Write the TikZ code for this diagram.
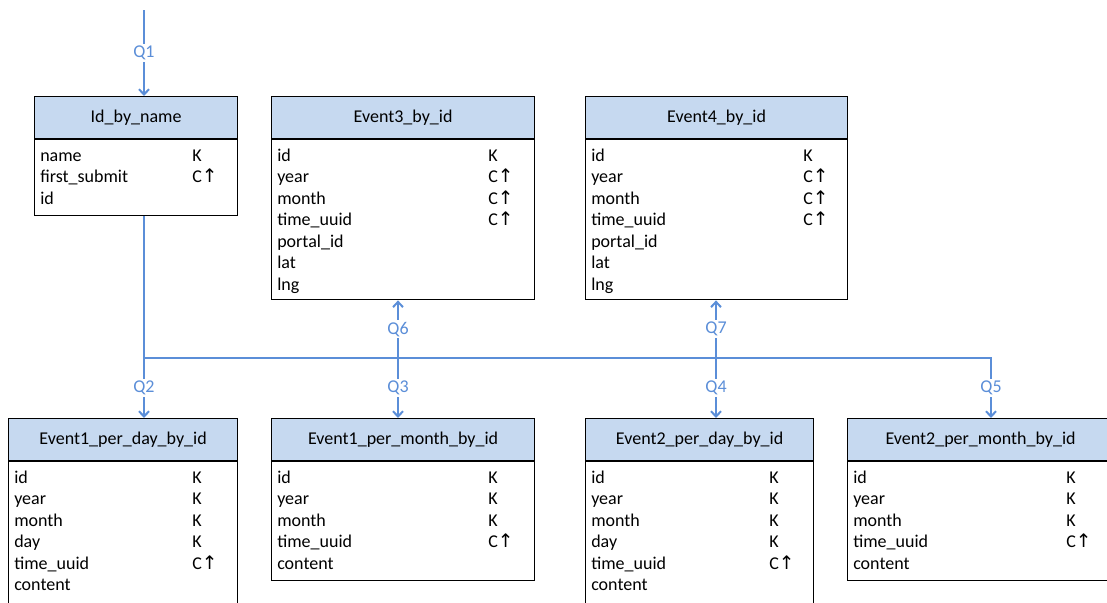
\documentclass[tikz,border=0pt]{standalone}
\usepackage{fontspec}
\setmainfont{Carlito}
\newfontfamily\arrowfont{DejaVu Sans}
\usetikzlibrary{arrows.meta,positioning}
\definecolor{hdrblue}{RGB}{198,217,240}
\definecolor{qblue}{RGB}{91,142,216}
\newcommand{\ascup}{C{\arrowfont\fontsize{14}{15}\selectfont ↑}}
\tikzset{
	tblhead/.style={draw, line width=0.9pt, fill=hdrblue, inner sep=0pt, minimum height=31.5pt, font=\fontsize{13.5}{15}\selectfont},
	tblbody/.style={draw, line width=0.9pt, fill=white, inner sep=0pt},
	tblrows/.style={anchor=north west, inner sep=0pt, font=\fontsize{13.5}{16.1}\selectfont},
	qline/.style={draw=qblue, line width=1.5pt},
	qarrow/.style={qline, -{Straight Barb[length=4pt,width=7.5pt]}},
	qlabel/.style={fill=white, text=qblue, inner sep=1.5pt, font=\fontsize{13.5}{15}\selectfont}
}
\begin{document}
\begin{tikzpicture}[x=0.75pt, y=-0.75pt]
				\useasboundingbox (0,0) rectangle (1107,603);
				% top row of tables
				\node[tblhead, anchor=north west, minimum width=152.25pt] (idhead) at (34,96) {Id\_by\_name};
				\node[tblbody, below=0pt of idhead, minimum width=152.25pt, minimum height=57pt] (idbody) {};
				\node[tblrows] (idrows) at ([xshift=4.5pt,yshift=-5.25pt]idbody.north west) {\begin{tabular}{@{}p{114pt}@{}l@{}}
					name & K\\ first\_submit & \ascup\\ id &
				\end{tabular}};
				\node[tblhead, anchor=north west, minimum width=197.25pt] (e3head) at (271,96) {Event3\_by\_id};
				\node[tblbody, below=0pt of e3head, minimum width=197.25pt, minimum height=120pt] (e3body) {};
				\node[tblrows] (e3rows) at ([xshift=4.5pt,yshift=-5.25pt]e3body.north west) {\begin{tabular}{@{}p{158.25pt}@{}l@{}}
					id & K\\ year & \ascup\\ month & \ascup\\ time\_uuid & \ascup\\ portal\_id &\\ lat &\\ lng &
				\end{tabular}};
				\node[tblhead, anchor=north west, minimum width=196.5pt] (e4head) at (585,96) {Event4\_by\_id};
				\node[tblbody, below=0pt of e4head, minimum width=196.5pt, minimum height=120pt] (e4body) {};
				\node[tblrows] (e4rows) at ([xshift=4.5pt,yshift=-5.25pt]e4body.north west) {\begin{tabular}{@{}p{159pt}@{}l@{}}
					id & K\\ year & \ascup\\ month & \ascup\\ time\_uuid & \ascup\\ portal\_id &\\ lat &\\ lng &
				\end{tabular}};
				% bottom row of tables
				\node[tblhead, anchor=north west, minimum width=171.75pt] (e1dhead) at (8,418) {Event1\_per\_day\_by\_id};
				\node[tblbody, below=0pt of e1dhead, minimum width=171.75pt, minimum height=112.5pt] (e1dbody) {};
				\node[tblrows] (e1drows) at ([xshift=4.5pt,yshift=-5.25pt]e1dbody.north west) {\begin{tabular}{@{}p{133.5pt}@{}l@{}}
					id & K\\ year & K\\ month & K\\ day & K\\ time\_uuid & \ascup\\ content &
				\end{tabular}};
				\node[tblhead, anchor=north west, minimum width=197.25pt] (e1mhead) at (271,418) {Event1\_per\_month\_by\_id};
				\node[tblbody, below=0pt of e1mhead, minimum width=197.25pt, minimum height=89.25pt] (e1mbody) {};
				\node[tblrows] (e1mrows) at ([xshift=4.5pt,yshift=-5.25pt]e1mbody.north west) {\begin{tabular}{@{}p{158.25pt}@{}l@{}}
					id & K\\ year & K\\ month & K\\ time\_uuid & \ascup\\ content &
				\end{tabular}};
				\node[tblhead, anchor=north west, minimum width=171pt] (e2dhead) at (585,418) {Event2\_per\_day\_by\_id};
				\node[tblbody, below=0pt of e2dhead, minimum width=171pt, minimum height=112.5pt] (e2dbody) {};
				\node[tblrows] (e2drows) at ([xshift=4.5pt,yshift=-5.25pt]e2dbody.north west) {\begin{tabular}{@{}p{133.5pt}@{}l@{}}
					id & K\\ year & K\\ month & K\\ day & K\\ time\_uuid & \ascup\\ content &
				\end{tabular}};
				\node[tblhead, anchor=north west, minimum width=199.5pt] (e2mhead) at (847,418) {Event2\_per\_month\_by\_id};
				\node[tblbody, below=0pt of e2mhead, minimum width=199.5pt, minimum height=89.25pt] (e2mbody) {};
				\node[tblrows] (e2mrows) at ([xshift=4.5pt,yshift=-5.25pt]e2mbody.north west) {\begin{tabular}{@{}p{159.75pt}@{}l@{}}
					id & K\\ year & K\\ month & K\\ time\_uuid & \ascup\\ content &
				\end{tabular}};
				% query lines
				\coordinate (q1in) at (144,10);
				\coordinate (busL) at (144,358);
				\coordinate (busA) at (398,358);
				\coordinate (busB) at (716,358);
				\coordinate (busR) at (991,358);
				\draw[qarrow] (q1in) -- node[qlabel] {Q1} (q1in |- idhead.north);
				\draw[qarrow] (busL |- idbody.south) -- (busL) -- (busR) -- node[qlabel] {Q5} (busR |- e2mhead.north);
				\draw[qarrow] (busL) -- node[qlabel] {Q2} (busL |- e1dhead.north);
				\draw[qarrow] (busA) -- node[qlabel] {Q3} (busA |- e1mhead.north);
				\draw[qarrow] (busA) -- node[qlabel] {Q6} (busA |- e3body.south);
				\draw[qarrow] (busB) -- node[qlabel] {Q4} (busB |- e2dhead.north);
				\draw[qarrow] (busB) -- node[qlabel] {Q7} (busB |- e4body.south);
			\end{tikzpicture}
\end{document}
